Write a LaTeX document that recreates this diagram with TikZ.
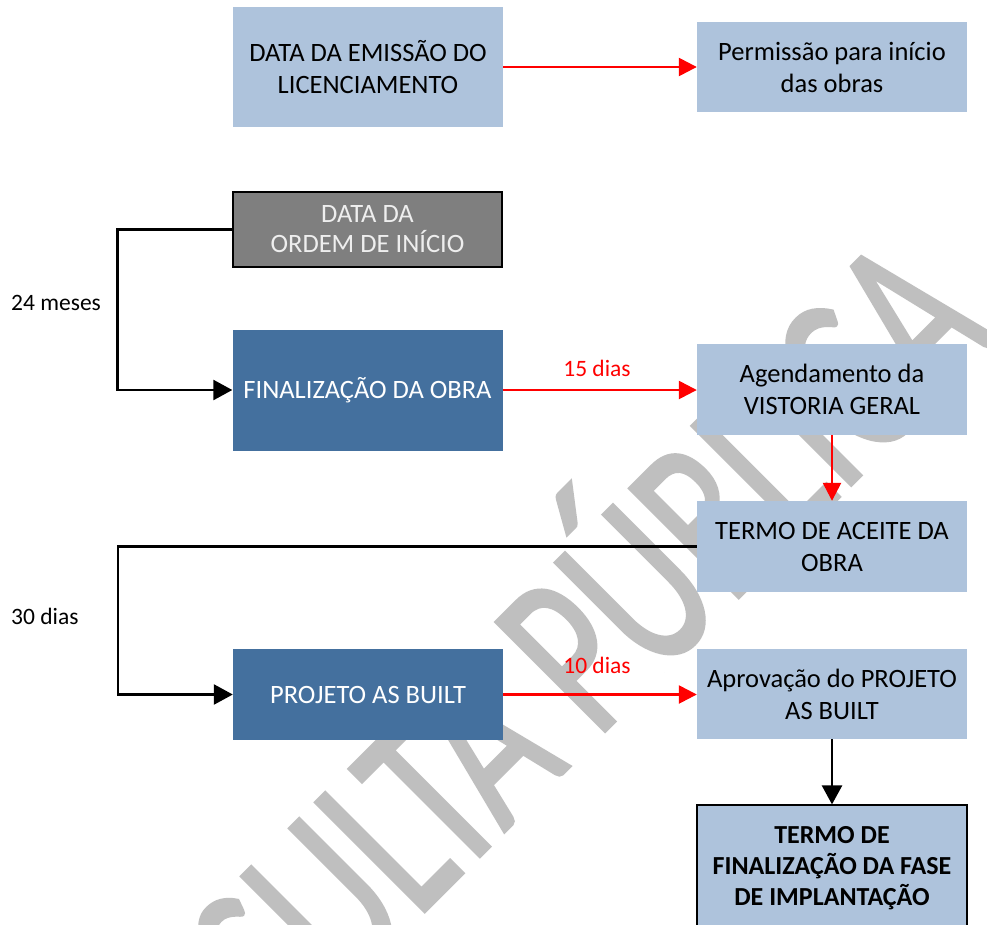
\documentclass[tikz,border=0pt]{standalone}
\usepackage{fontspec}
\setmainfont{Carlito}
\newfontfamily\wmfont[FakeBold=1.5]{Carlito}
\usetikzlibrary{arrows.meta}
\definecolor{lblue}{HTML}{AEC3DC}
\definecolor{dblue}{HTML}{44709E}
\definecolor{gbox}{HTML}{7F7F7F}
\definecolor{wm}{HTML}{BFBFBF}
\definecolor{gtext}{HTML}{EEEEEE}
\begin{document}
\begin{tikzpicture}[x=1pt,y=1pt,
  box/.style={rectangle, inner sep=0pt, align=center, font=\fontsize{26.5}{32}\selectfont},
  lb/.style={box, fill=lblue, text=black, minimum width=270pt},
  db/.style={box, fill=dblue, text=white, minimum width=270pt},
  redarr/.style={draw=red, line width=2.5pt, -{Triangle[length=18pt,width=18pt]}},
  blkarr/.style={draw=black, line width=2.5pt, -{Triangle[length=19pt,width=20pt]}},
  lab/.style={font=\fontsize{23.5}{28}\selectfont, inner sep=0pt}]
\useasboundingbox (0,0) rectangle (987,-924);
\clip (0,0) rectangle (987,-924);
\fill[white] (0,0) rectangle (987,-924);

% watermark
\begin{scope}[shift={(999,-337)}, rotate=45, xscale=0.68]
\node[anchor=base east, inner sep=0pt, text=wm, font=\wmfont\fontsize{240}{240}\selectfont, transform shape] (wmk) at (0,0) {CONSULTA PÚBLICA};
\end{scope}

% boxes
\node[lb, minimum height=120pt] (lic) at (368,-67) {DATA DA EMISSÃO DO\\LICENCIAMENTO};
\node[lb, minimum height=90pt] (perm) at (832,-67) {Permissão para início\\das obras};
\node[box, fill=gbox, draw=black, line width=1.2pt, text=gtext, minimum width=269pt, minimum height=75pt, font=\fontsize{26.5}{30}\selectfont] (ordem) at (367.5,-229.5) {DATA DA\\ORDEM DE INÍCIO};
\node[db, minimum height=121pt] (fin) at (367.5,-390) {FINALIZAÇÃO DA OBRA};
\node[lb, minimum height=91pt] (agend) at (832,-389.5) {Agendamento da\\VISTORIA GERAL};
\node[lb, minimum height=91pt] (aceite) at (832,-546.5) {TERMO DE ACEITE DA\\OBRA};
\node[db, minimum height=91pt] (asb) at (368,-694.5) {PROJETO AS BUILT};
\node[lb, minimum height=90pt] (aprov) at (832,-694) {Aprovação do PROJETO\\AS BUILT};
\node[lb, draw=black, line width=1.2pt, minimum height=126pt, font=\fontsize{26}{31}\bfseries\selectfont] (termo) at (832,-868) {TERMO DE\\FINALIZAÇÃO DA FASE\\DE IMPLANTAÇÃO};

% labels
\node[lab, anchor=west] (l24) at (11,-303) {24 meses};
\node[lab, anchor=west] (l30) at (11,-616) {30 dias};
\node[lab, text=red] (l15) at (597,-368) {15 dias};
\node[lab, text=red] (l10) at (597,-665) {10 dias};

% connectors
\draw[redarr] (lic.east) -- (perm.west);
\draw[redarr] (fin.east) -- (agend.west |- fin.east);
\draw[redarr] (agend.south) -- (aceite.north);
\draw[redarr] (asb.east) -- (aprov.west |- asb.east);
\draw[blkarr] (aprov.south) -- (termo.north);
\draw[blkarr] (ordem.west) -- ++(-115,0) |- (fin.west);
\draw[blkarr] (aceite.west) -- ++(-579,0) |- (asb.west);
\end{tikzpicture}
\end{document}
